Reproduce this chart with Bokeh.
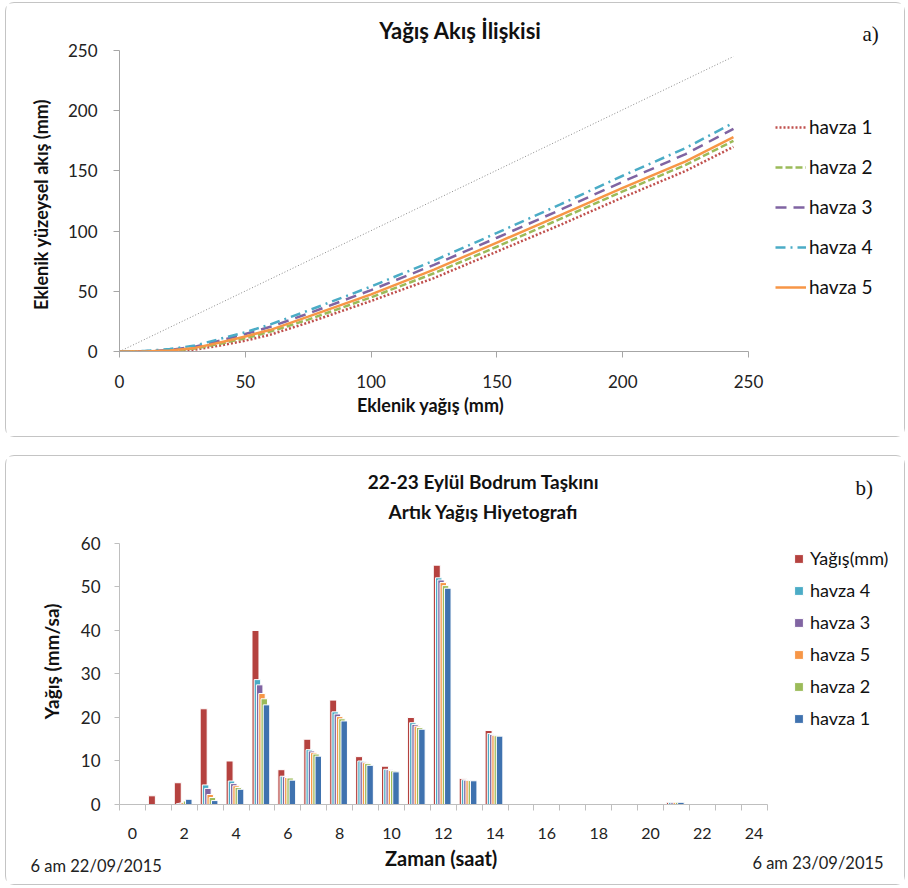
from bokeh.plotting import figure
from bokeh.models import (Range1d, Legend, LegendItem, Label, FixedTicker, ColumnDataSource,
                          LinearAxis, Title)
from bokeh.layouts import column
from bokeh.transform import dodge
from bokeh.embed import file_html
from bokeh.resources import INLINE

FONT = "Lato"

# ---------------- data: (a) rainfall-runoff relationship ----------------
cum_rain = [0, 10, 20, 30, 40, 50, 60, 75, 100, 125, 150, 175, 200, 225, 244]
runoff_h1 = [0, 0, 0, 1.5, 5, 9, 14, 24, 42, 61, 83, 105, 128, 150, 170]
runoff_h2 = [0, 0, 0.5, 2.5, 6.5, 11, 16.5, 26.5, 45, 65, 87, 110, 133, 155, 175]
runoff_h3 = [0, 0.2, 1.2, 4, 9, 14.5, 20.5, 31.5, 51, 72, 94.5, 117.5, 141, 164, 185]
runoff_h4 = [0, 0.4, 2, 5, 10.5, 16, 22.5, 34, 54, 75.5, 98.5, 122, 146, 169, 190]
runoff_h5 = [0, 0.1, 0.8, 3, 7.5, 12.5, 18, 29, 47.5, 68, 90.5, 113, 136, 158, 178]
diag_rain = [0, 244]
diag_runoff = [0, 245]
axis_ticks_a = [0, 50, 100, 150, 200, 250]

# ---------------- data: (b) excess rainfall hyetograph ----------------
hours = list(range(25))
yagis = [0, 2, 5, 22, 10, 40, 8, 15, 24, 11, 8.8, 20, 55, 6, 17, 0, 0, 0, 0, 0, 0, 0.5, 0, 0, 0]
havza4 = [0, 0, 0.2, 4.5, 5.4, 28.7, 6.5, 12.6, 21.3, 10.0, 8.1, 18.8, 52.1, 5.7, 16.3, 0, 0, 0, 0, 0, 0, 0.5, 0, 0, 0]
havza3 = [0, 0, 0.3, 3.7, 4.8, 27.5, 6.4, 12.3, 20.8, 9.8, 8.0, 18.4, 51.6, 5.6, 16.1, 0, 0, 0, 0, 0, 0, 0.5, 0, 0, 0]
havza5 = [0, 0, 0.5, 2.3, 4.3, 25.5, 6.2, 11.9, 20.2, 9.6, 7.8, 18.0, 51.0, 5.55, 15.9, 0, 0, 0, 0, 0, 0, 0.5, 0, 0, 0]
havza2 = [0, 0, 0.8, 1.6, 3.9, 24.3, 6.1, 11.6, 19.7, 9.4, 7.7, 17.7, 50.3, 5.5, 15.8, 0, 0, 0, 0, 0, 0, 0.5, 0, 0, 0]
havza1 = [0, 0, 1.2, 0.9, 3.5, 22.9, 5.6, 11.1, 19.2, 9.0, 7.5, 17.3, 49.7, 5.45, 15.7, 0, 0, 0, 0, 0, 0, 0.5, 0, 0, 0]
even_hour_ticks = list(range(0, 25, 2))
y_ticks_b = [0, 10, 20, 30, 40, 50, 60]
start_label = "6 am  22/09/2015"
end_label = "6 am  23/09/2015"

RED = "#B5423F"
CYAN = "#4BACC6"
PURPLE = "#8064A2"
ORANGE = "#F79646"
GREEN = "#9BBB59"
BLUE = "#3F72AF"
AXIS_C = "#A6A6A6"
BOX_STYLE = {"border": "1px solid #c4c4c4", "border-radius": "9px"}


def text_axis(pos, text, size, standoff, bold=True, vertical=False):
    """An axis that only carries one text (used for axis titles placed like the reference)."""
    ax = LinearAxis(ticker=FixedTicker(ticks=[pos]), major_label_overrides={pos: text},
                    axis_line_color=None, major_tick_line_color=None, minor_tick_line_color=None,
                    major_tick_out=0, major_tick_in=0, minor_tick_out=0, minor_tick_in=0,
                    major_label_standoff=standoff, major_label_text_font=FONT,
                    major_label_text_font_size=size,
                    major_label_text_font_style="bold" if bold else "normal",
                    major_label_text_color="#111111")
    if vertical:
        ax.major_label_orientation = "vertical"
    return ax


# =============================== (a) ===============================
p1 = figure(width=900, height=435, output_backend="svg", toolbar_location=None,
            x_range=Range1d(0, 308.4), y_range=Range1d(0, 281.6),
            min_border_left=113, min_border_right=11, min_border_top=9, min_border_bottom=87)
p1.styles = BOX_STYLE
p1.outline_line_color = None
p1.xgrid.visible = False
p1.ygrid.visible = False

p1.xaxis.ticker = FixedTicker(ticks=axis_ticks_a)
p1.yaxis.ticker = FixedTicker(ticks=axis_ticks_a)
for ax in (p1.xaxis[0], p1.yaxis[0]):
    ax.bounds = (0, 250)
    ax.axis_line_color = AXIS_C
    ax.major_tick_line_color = AXIS_C
    ax.major_tick_out = 6
    ax.major_tick_in = 0
    ax.minor_tick_line_color = None
    ax.major_label_text_font = FONT
    ax.major_label_text_font_size = "17px"
    ax.major_label_text_color = "#222222"
p1.xaxis.major_label_standoff = 17
p1.yaxis.major_label_standoff = 16
p1.add_layout(text_axis(123.6, "Eklenik yağış (mm)", "18px", 3), "below")
p1.add_layout(text_axis(122.1, "Eklenik yüzeysel akış (mm)", "18px", 12, vertical=True), "left")

p1.line(diag_rain, diag_runoff, line_color="#8a8a8a", line_width=1, line_dash="1 2")
r1 = p1.line(cum_rain, runoff_h1, line_color="#C0504D", line_width=2.5, line_dash="2 2")
r2 = p1.line(cum_rain, runoff_h2, line_color=GREEN, line_width=2.5, line_dash="7 3")
r3 = p1.line(cum_rain, runoff_h3, line_color=PURPLE, line_width=2.5, line_dash="11 7")
r4 = p1.line(cum_rain, runoff_h4, line_color=CYAN, line_width=2.5, line_dash="10 5 2 5")
r5 = p1.line(cum_rain, runoff_h5, line_color=ORANGE, line_width=2.5)

leg1 = Legend(items=[LegendItem(label="havza 1", renderers=[r1]),
                     LegendItem(label="havza 2", renderers=[r2]),
                     LegendItem(label="havza 3", renderers=[r3]),
                     LegendItem(label="havza 4", renderers=[r4]),
                     LegendItem(label="havza 5", renderers=[r5])],
              location=(656, 53), orientation="vertical",
              glyph_width=31, glyph_height=20, label_height=20, spacing=17,
              label_standoff=3, padding=0, margin=0,
              border_line_color=None, background_fill_alpha=0,
              label_text_font=FONT, label_text_font_size="19px", label_text_color="#111111")
p1.add_layout(leg1, "center")

p1.add_layout(Label(x=135.5, y=266.6, text="Yağış Akış İlişkisi", text_align="center",
                    text_baseline="middle", text_font=FONT, text_font_style="bold",
                    text_font_size="22px", text_color="#111111"))
p1.add_layout(Label(x=298.5, y=264.1, text="a)", text_align="center", text_baseline="middle",
                    text_font="Liberation Serif", text_font_size="21px", text_color="#111111"))

# =============================== (b) ===============================
p2 = figure(width=900, height=430, output_backend="svg", toolbar_location=None,
            x_range=Range1d(-0.5, 29.46), y_range=Range1d(0, 78.6),
            min_border_left=94, min_border_right=6, min_border_top=6, min_border_bottom=82)
p2.styles = BOX_STYLE
p2.outline_line_color = None
p2.xgrid.visible = False
p2.ygrid.visible = False

src = ColumnDataSource(dict(hour=hours, yagis=yagis, h4=havza4, h3=havza3,
                            h5=havza5, h2=havza2, h1=havza1))

series = [("yagis", "Yağış(mm)", RED, -0.25, 0.27),
          ("h4", "havza 4", CYAN, -0.175, 0.25),
          ("h3", "havza 3", PURPLE, -0.0875, 0.25),
          ("h5", "havza 5", ORANGE, 0.0, 0.25),
          ("h2", "havza 2", GREEN, 0.0875, 0.25),
          ("h1", "havza 1", BLUE, 0.175, 0.25)]
items2 = []
for col, lab, colr, off, w in series:
    r = p2.vbar(x=dodge("hour", off, range=p2.x_range), top=col, width=w, bottom=0,
                source=src, fill_color=colr, line_color="white", line_width=1)
    items2.append(LegendItem(label=lab, renderers=[r]))

p2.xaxis.ticker = FixedTicker(ticks=even_hour_ticks,
                              minor_ticks=[h - 0.5 for h in hours] + [24.5])
p2.yaxis.ticker = FixedTicker(ticks=y_ticks_b)
p2.xaxis.bounds = (-0.5, 24.5)
p2.yaxis.bounds = (0, 60)
for ax in (p2.xaxis[0], p2.yaxis[0]):
    ax.axis_line_color = "#BFBFBF"
    ax.major_label_text_font = FONT
    ax.major_label_text_color = "#222222"
p2.xaxis.major_label_text_font_size = "16px"
p2.yaxis.major_label_text_font_size = "17px"
p2.xaxis.major_tick_line_color = None
p2.xaxis.major_tick_out = 0
p2.xaxis.minor_tick_line_color = "#BFBFBF"
p2.xaxis.minor_tick_out = 6
p2.xaxis.minor_tick_in = 0
p2.xaxis.major_label_standoff = 17
p2.yaxis.major_tick_line_color = "#BFBFBF"
p2.yaxis.major_tick_out = 5
p2.yaxis.major_tick_in = 0
p2.yaxis.minor_tick_line_color = None
p2.yaxis.major_label_standoff = 14

p2.add_layout(text_axis(11.92, "Zaman (saat)", "20px", 4), "below")
date_ticks = [26.55]
date_axis = LinearAxis(ticker=FixedTicker(ticks=date_ticks),
                       major_label_overrides={date_ticks[0]: end_label},
                       axis_line_color=None, major_tick_line_color=None,
                       minor_tick_line_color=None, major_tick_out=0, major_tick_in=0,
                       minor_tick_out=0, minor_tick_in=0, major_label_standoff=-20,
                       major_label_text_font=FONT, major_label_text_font_size="16.5px",
                       major_label_text_color="#222222")
p2.add_layout(date_axis, "below")
p2.add_layout(Title(text=start_label, align="left", offset=-89, vertical_align="top",
                    standoff=-40, text_font=FONT, text_font_size="16.5px",
                    text_font_style="normal", text_color="#222222"), "below")
p2.add_layout(text_axis(32.9, "Yağış (mm/sa)", "19px", 14, vertical=True), "left")

leg2 = Legend(items=items2, location=(674, 75), orientation="vertical",
              glyph_width=11, glyph_height=11, label_height=11, spacing=10,
              label_standoff=6, padding=0, margin=0,
              border_line_color=None, background_fill_alpha=0,
              label_text_font=FONT, label_text_font_size="18px", label_text_color="#111111")
p2.add_layout(leg2, "center")

for yv, txt in ((74.25, "22-23 Eylül Bodrum Taşkını"), (67.36, "Artık Yağış Hiyetografı")):
    p2.add_layout(Label(x=13.55, y=yv, text=txt, text_align="center", text_baseline="middle",
                        text_font=FONT, text_font_style="bold", text_font_size="19px",
                        text_color="#111111"))
p2.add_layout(Label(x=28.25, y=72.64, text="b)", text_align="center", text_baseline="middle",
                    text_font="Liberation Serif", text_font_size="21px", text_color="#111111"))

layout = column(p1, p2, spacing=18, styles={"margin-left": "5px", "margin-top": "2px"})

open("out.html", "w").write(file_html(layout, INLINE))
